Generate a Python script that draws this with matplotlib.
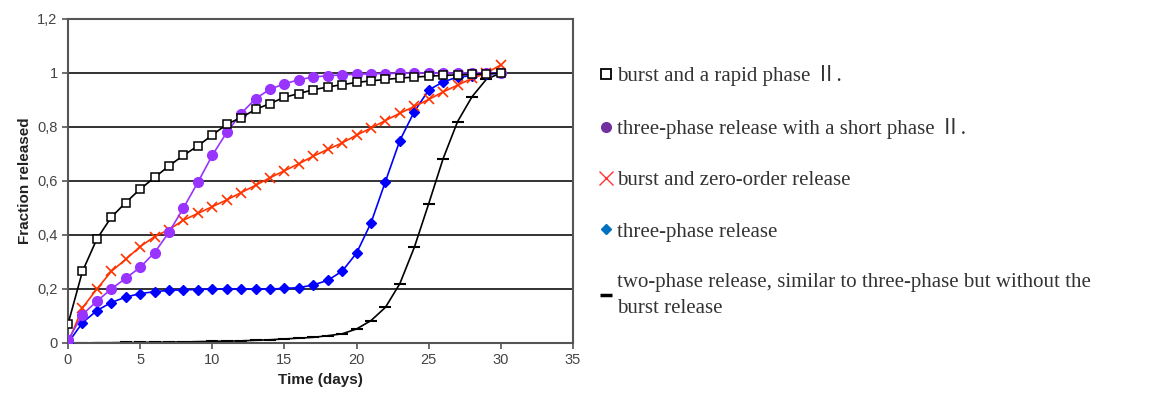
import numpy as np
import matplotlib
matplotlib.use("Agg")
from matplotlib import pyplot as plt
from matplotlib.lines import Line2D
from matplotlib.ticker import FuncFormatter

days = list(range(31))

# burst and a rapid phase II (black open squares)
rapid = [0.07, 0.265, 0.385, 0.466, 0.52, 0.57, 0.613, 0.656, 0.695, 0.73, 0.77,
         0.81, 0.835, 0.865, 0.887, 0.91, 0.924, 0.938, 0.948, 0.957, 0.965,
         0.971, 0.976, 0.981, 0.985, 0.988, 0.991, 0.993, 0.995, 0.997, 1.0]
# three-phase release with a short phase II (purple circles)
short_phase = [0.01, 0.105, 0.155, 0.2, 0.24, 0.28, 0.335, 0.41, 0.5, 0.595, 0.695,
               0.78, 0.85, 0.905, 0.94, 0.96, 0.975, 0.985, 0.99, 0.993, 0.995,
               0.997, 0.998, 0.999, 1.0, 1.0, 1.0, 1.0, 1.0, 1.0, 1.0]
# burst and zero-order release (red crosses)
zero_order = [0.0, 0.13, 0.2, 0.265, 0.31, 0.357, 0.394, 0.42, 0.455, 0.48, 0.505,
              0.53, 0.557, 0.584, 0.612, 0.638, 0.664, 0.692, 0.717, 0.741, 0.77,
              0.796, 0.824, 0.851, 0.876, 0.902, 0.93, 0.955, 0.98, 1.0, 1.03]
# three-phase release (blue diamonds)
three_phase = [0.0, 0.075, 0.12, 0.15, 0.17, 0.183, 0.19, 0.195, 0.197, 0.198, 0.2,
               0.2, 0.2, 0.2, 0.2, 0.202, 0.205, 0.215, 0.232, 0.266, 0.333,
               0.445, 0.598, 0.75, 0.857, 0.937, 0.967, 0.985, 0.99, 0.995, 1.0]
# two-phase release (black dashes)
two_phase = [0.0, 0.0, 0.001, 0.001, 0.002, 0.002, 0.003, 0.003, 0.004, 0.005, 0.006,
             0.007, 0.008, 0.01, 0.012, 0.015, 0.018, 0.021, 0.027, 0.034, 0.052,
             0.083, 0.132, 0.22, 0.354, 0.516, 0.683, 0.82, 0.912, 0.977, 1.0]

labels = ["burst and a rapid phase \u2161.",
          "three-phase release with a short phase \u2161.",
          "burst and zero-order release",
          "three-phase release",
          "two-phase release, similar to three-phase but without the\nburst release"]

plt.rcParams['font.family'] = ['Liberation Sans', 'DejaVu Sans']

fig = plt.figure(figsize=(11.76, 4.03), dpi=100)
ax = fig.add_axes([68/1176, 1 - 343/403, (573-68)/1176, (343-19)/403])

for y in np.arange(0.2, 1.21, 0.2):
    ax.axhline(y, color='#222222', lw=1.3, zorder=0)

ax.plot(days, two_phase, color='black', lw=1.2, marker='_', ms=9, mew=1.5, zorder=2)
ax.plot(days, three_phase, color='#0000ff', lw=1.2, marker='D', ms=5.5, zorder=3)
ax.plot(days, zero_order, color='#ff3300', lw=1.2, marker='x', ms=7.5, mew=1.2, zorder=3)
ax.plot(days, short_phase, color='#9933ff', lw=1.2, marker='o', ms=7, zorder=3)
ax.plot(days, rapid, color='black', lw=1.2, marker='s', ms=6, mfc='white', mec='black',
        mew=1.1, zorder=4)

ax.set_xlim(0, 35)
ax.set_ylim(0, 1.2)
ax.set_xticks(range(0, 36, 5))
ax.set_yticks(np.arange(0, 1.21, 0.2))
ax.yaxis.set_major_formatter(FuncFormatter(lambda v, p: ('%g' % round(v, 1)).replace('.', ',')))
ax.tick_params(labelsize=10.5, labelcolor='#444444', color='#555555', length=4, width=1.2)
for s in ax.spines.values():
    s.set_color('#555555')
    s.set_linewidth(1.5)
ax.set_xlabel("Time (days)", fontsize=11, fontweight='bold', color='#222222')
ax.set_ylabel("Fraction released", fontsize=11, fontweight='bold', color='#222222')

handles = [
    Line2D([], [], ls='none', marker='s', ms=7, mfc='white', mec='black', mew=1.3),
    Line2D([], [], ls='none', marker='o', ms=7, color='#7030a0'),
    Line2D([], [], ls='none', marker='x', ms=10, color='#ff3333', mew=1.0),
    Line2D([], [], ls='none', marker='D', ms=5, color='#0070c0'),
    Line2D([], [], ls='none', marker='_', ms=9, color='black', mew=2.5),
]
leg = fig.legend(handles, labels, loc='upper left', bbox_to_anchor=(589/1176, 1 - 55/403),
                 frameon=False,
                 prop={'family': ['Liberation Serif', 'Noto Sans CJK JP', 'DejaVu Sans'],
                       'size': 15},
                 labelcolor='#333333', handlelength=0.6, handletextpad=0.25,
                 labelspacing=1.52, borderpad=0)
leg.get_texts()[-1].set_linespacing(1.45)

fig.savefig("out.png", dpi=100)
